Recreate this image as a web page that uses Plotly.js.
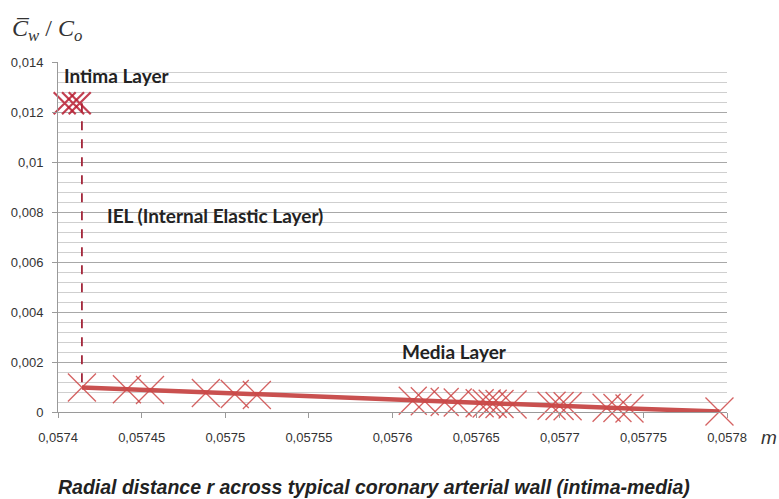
<!DOCTYPE html>
<html>
<head>
<meta charset="utf-8">
<script src="https://cdn.plot.ly/plotly-3.0.1.min.js"></script>
<style>html,body{margin:0;padding:0;background:#fff;}#chart{width:779px;height:499px;}</style>
</head>
<body>
<div id="chart"></div>
<script>
// Intima layer points
const intimaX = [0.057404, 0.057409, 0.057413];
const intimaY = [0.01235, 0.01235, 0.01235];
// Internal elastic layer (dashed vertical)
const ielX = [0.0574143, 0.0574143];
const ielY = [0.01235, 0.00098];
// Media layer points
const mediaX = [0.0574143, 0.0574412, 0.0574550, 0.0574884, 0.0575057, 0.0575189,
  0.0576121, 0.0576193, 0.0576312, 0.0576390, 0.0576521, 0.0576563, 0.0576599,
  0.0576640, 0.0576718, 0.0576951, 0.0576999, 0.0577047, 0.0577280, 0.0577345,
  0.0577417, 0.0577955];
const mediaY = [0.00098, 0.00091, 0.00088, 0.00076, 0.00072, 0.00068,
  0.00045, 0.00043, 0.00040, 0.00038, 0.00035, 0.00034, 0.00033,
  0.00032, 0.00030, 0.00025, 0.00024, 0.00023, 0.00017, 0.00016,
  0.00014, 0.00002];

const traces = [
  {x: ielX, y: ielY, mode: 'lines', line: {color: '#a3263a', width: 1.8, dash: 'dash'}, hoverinfo: 'none', cliponaxis: false},
  {x: mediaX, y: mediaY, mode: 'lines', line: {color: '#c9504f', width: 4.5}, hoverinfo: 'none', cliponaxis: false},
  {x: mediaX, y: mediaY, mode: 'markers', cliponaxis: false,
   marker: {symbol: 'x-thin-open', size: 28, color: 'rgba(205,70,70,0.85)', line: {color: 'rgba(205,70,70,0.85)', width: 1.3}}, hoverinfo: 'none'},
  {x: intimaX, y: intimaY, mode: 'markers', cliponaxis: false,
   marker: {symbol: 'x-thin-open', size: 22, color: 'rgba(185,30,50,0.85)', line: {color: 'rgba(185,30,50,0.85)', width: 2.2}}, hoverinfo: 'none'}
];

const layout = {
  width: 779, height: 499,
  margin: {l: 58, r: 52, t: 62, b: 87},
  paper_bgcolor: '#fff', plot_bgcolor: '#fff',
  showlegend: false,
  separators: ',.',
  font: {family: 'Liberation Sans, Arial, sans-serif', size: 12, color: '#404040'},
  xaxis: {
    range: [0.0574, 0.0578], dtick: 0.00005, tick0: 0.0574,
    showgrid: false, zeroline: false,
    showline: true, linecolor: '#9a9a9a', linewidth: 1,
    ticks: 'outside', ticklen: 5, tickcolor: '#9a9a9a',
    ticklabelstandoff: 8,
    tickfont: {size: 13, color: '#333'},
    fixedrange: true
  },
  yaxis: {
    range: [0, 0.014], dtick: 0.002, tick0: 0,
    showgrid: true, gridcolor: '#a8a8a8', gridwidth: 1,
    minor: {dtick: 0.0004, showgrid: true, gridcolor: '#cfcfcf', gridwidth: 1},
    zeroline: false,
    showline: true, linecolor: '#9a9a9a', linewidth: 1,
    ticks: 'outside', ticklen: 5, tickcolor: '#9a9a9a',
    ticklabelstandoff: 6,
    tickfont: {size: 13, color: '#333'},
    fixedrange: true
  },
  annotations: [
    {xref: 'paper', yref: 'paper', x: -0.072, y: 1.09, xanchor: 'left', yanchor: 'middle',
     text: '<i>C\u0305</i><sub><i>w</i></sub> / <i>C</i><sub><i>o</i></sub>', showarrow: false,
     font: {family: 'Liberation Serif, Times New Roman, serif', size: 24, color: '#333'}},
    {xref: 'x', yref: 'y', x: 0.0574025, y: 0.01345, xanchor: 'left', yanchor: 'middle',
     text: '<b>Intima Layer</b>', showarrow: false,
     font: {family: 'Lato, sans-serif', size: 19, color: '#222'}},
    {xref: 'x', yref: 'y', x: 0.057428, y: 0.00788, xanchor: 'left', yanchor: 'middle',
     text: '<b>IEL (Internal Elastic Layer)</b>', showarrow: false,
     font: {family: 'Lato, sans-serif', size: 19, color: '#222'}},
    {xref: 'x', yref: 'y', x: 0.0576045, y: 0.00241, xanchor: 'left', yanchor: 'middle',
     text: '<b>Media Layer</b>', showarrow: false,
     font: {family: 'Lato, sans-serif', size: 19, color: '#222'}},
    {xref: 'paper', yref: 'paper', x: 1.048, y: -0.072, xanchor: 'left', yanchor: 'middle',
     text: '<i>m</i>', showarrow: false,
     font: {family: 'Liberation Sans, Arial, sans-serif', size: 19, color: '#333'}},
    {xref: 'paper', yref: 'paper', x: 0.473, y: -0.215, xanchor: 'center', yanchor: 'middle',
     text: '<b><i>Radial distance r across typical coronary arterial wall (intima-media)</i></b>', showarrow: false,
     font: {family: 'Liberation Sans, Arial, sans-serif', size: 19.5, color: '#222'}}
  ]
};

Plotly.newPlot('chart', traces, layout, {displayModeBar: false, staticPlot: true});
</script>
</body>
</html>
